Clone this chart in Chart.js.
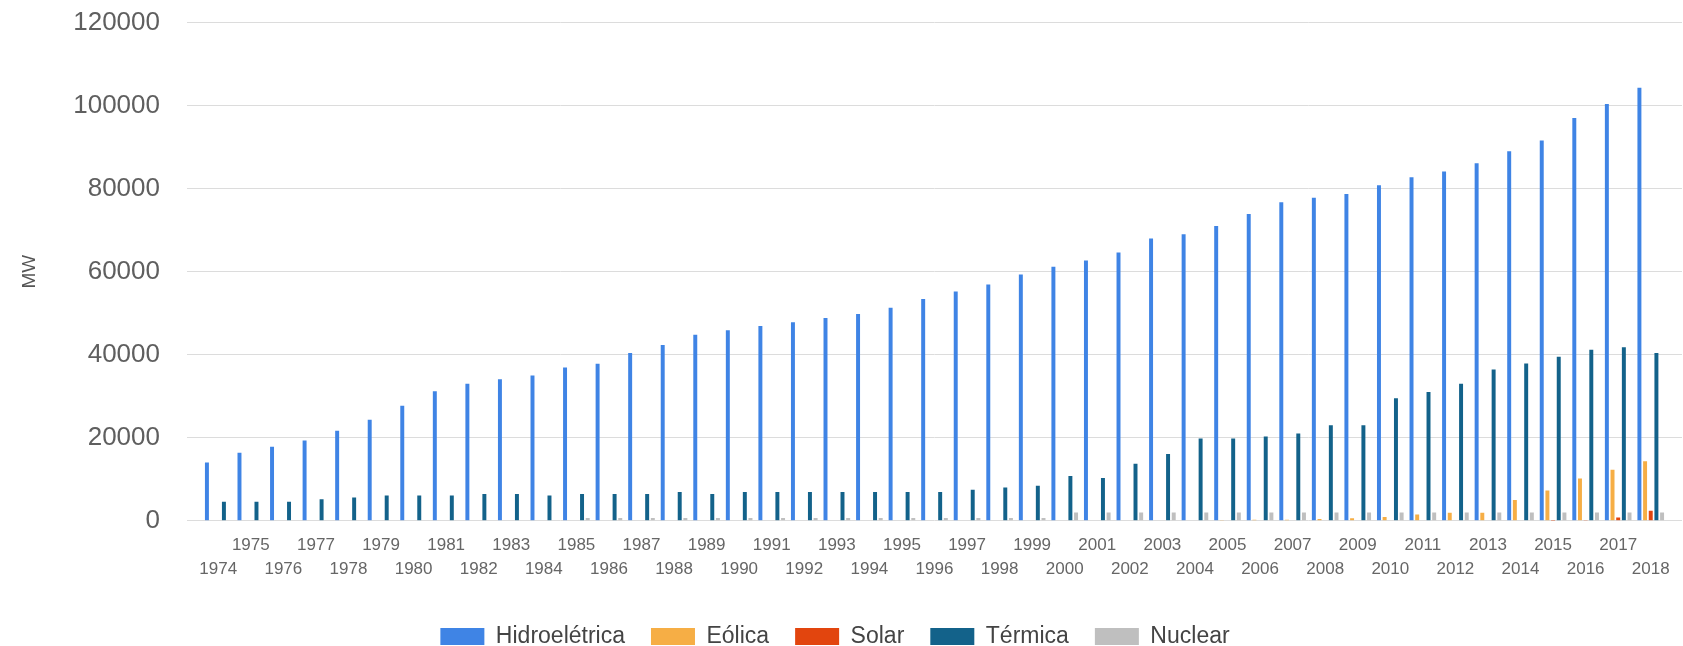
<!DOCTYPE html>
<html>
<head>
<meta charset="utf-8">
<script src="https://cdn.jsdelivr.net/npm/chart.js@4"></script>
<style>
  html, body { margin: 0; padding: 0; background: #fff; }
  #wrap { width: 1683px; height: 646px; }
</style>
</head>
<body>
<div id="wrap"><canvas id="myChart"></canvas></div>
<script>
// anos 1974..2018
var years = [1974,1975,1976,1977,1978,1979,1980,1981,1982,1983,
             1984,1985,1986,1987,1988,1989,1990,1991,1992,1993,
             1994,1995,1996,1997,1998,1999,2000,2001,2002,2003,
             2004,2005,2006,2007,2008,2009,2010,2011,2012,2013,
             2014,2015,2016,2017,2018];

var hidro = [14000,16400,17850,19300,21700,24300,27700,31200,33000,34100,
             35000,36900,37800,40400,42300,44800,45900,46900,47800,48800,
             49800,51300,53400,55200,56900,59300,61200,62700,64600,68000,
             69000,71000,73900,76700,77800,78700,80800,82700,84100,86100,
             89000,91600,97000,100400,104300];

var eolica = [0,0,0,0,0,0,0,0,0,0,
              0,0,0,0,0,0,0,0,0,0,
              0,0,0,0,0,0,0,0,0,0,
              0,30,240,250,400,600,930,1500,1900,1900,
              5000,7300,10200,12300,14300];

var solar = [0,0,0,0,0,0,0,0,0,0,
             0,0,0,0,0,0,0,0,0,0,
             0,0,0,0,0,0,0,0,0,0,
             0,0,0,0,0,0,0,0,0,0,
             0,20,80,800,2400];

var termica = [4550,4550,4550,5150,5600,6100,6100,6100,6450,6450,
               6100,6450,6450,6450,6950,6450,6950,6950,6950,6950,
               6950,6950,6950,7470,8000,8400,10800,10300,13700,16100,
               19800,19800,20300,21000,23000,23000,29500,31000,33000,36400,
               37900,39500,41200,41800,40400];

var nuclear = [0,0,0,0,0,0,0,0,0,0,
               0,657,657,657,657,657,657,657,657,657,
               657,657,657,657,657,657,2007,2007,2007,2007,
               2007,2007,2007,2007,2007,2007,2007,2007,2007,2007,
               2007,2007,2007,2007,2007];

var yTicks = [0,20000,40000,60000,80000,100000,120000];

var fontFam = '"Liberation Sans", Arial, sans-serif';

function serie(label, data, color){
	return {
		label: label,
		data: data,
		backgroundColor: color,
		borderWidth: 0,
		categoryPercentage: 0.87,
		barPercentage: 0.7
	};
}

var ctx = document.getElementById('myChart');
var chart = new Chart(ctx, {
	type: 'bar',
	data: {
		labels: years,
		datasets: [
			serie('Hidroelétrica', hidro, '#3f84e5'),
			serie('Eólica', eolica, '#f6ae45'),
			serie('Solar', solar, '#e2450e'),
			serie('Térmica', termica, '#13628a'),
			serie('Nuclear', nuclear, '#bfbfbf')
		]
	},
	options: {
		responsive: true,
		maintainAspectRatio: false,
		animation: false,
		layout: { padding: { left: -12, right: 1, top: 0, bottom: -12 } },
		plugins: {
			legend: {
				position: 'bottom',
				labels: {
					boxWidth: 44,
					boxHeight: 17,
					padding: 26,
					color: '#444',
					font: { family: fontFam, size: 23 }
				}
			},
			tooltip: { enabled: false }
		},
		scales: {
			x: {
				type: 'linear',
				offset: false,
				min: 1973.04,
				max: 2018.96,
				grid: { display: false, drawTicks: false, offset: false },
				border: { display: false },
				afterBuildTicks: function(s){
					s.ticks = years.map(function(y){ return { value: y }; });
				},
				afterFit: function(s){ s.height = s.height + 5; },
				ticks: {
					autoSkip: false,
					maxRotation: 0,
					minRotation: 0,
					padding: 13,
					color: '#666',
					font: { family: fontFam, size: 17, lineHeight: 1.39 },
					callback: function(v){
						if (years.indexOf(v) < 0) return '';
						return (v % 2) ? [String(v)] : ['', String(v)];
					}
				}
			},
			y: {
				min: 0,
				max: 120000,
				afterBuildTicks: function(s){
					s.ticks = yTicks.map(function(v){ return { value: v }; });
				},
				afterFit: function(s){
					s.width = 199;
					s.paddingTop = 22.5;
					s.paddingBottom = 0;
				},
				grid: { color: '#dcdcdc', drawTicks: false },
				border: { display: false },
				title: {
					display: true,
					text: 'MW',
					color: '#555',
					font: { family: fontFam, size: 19 },
					padding: { top: 30, bottom: 0 }
				},
				ticks: {
					padding: 27,
					color: '#5f5f5f',
					font: { family: fontFam, size: 26 },
					callback: function(v){ return String(v); }
				}
			}
		}
	}
});
</script>
</body>
</html>
